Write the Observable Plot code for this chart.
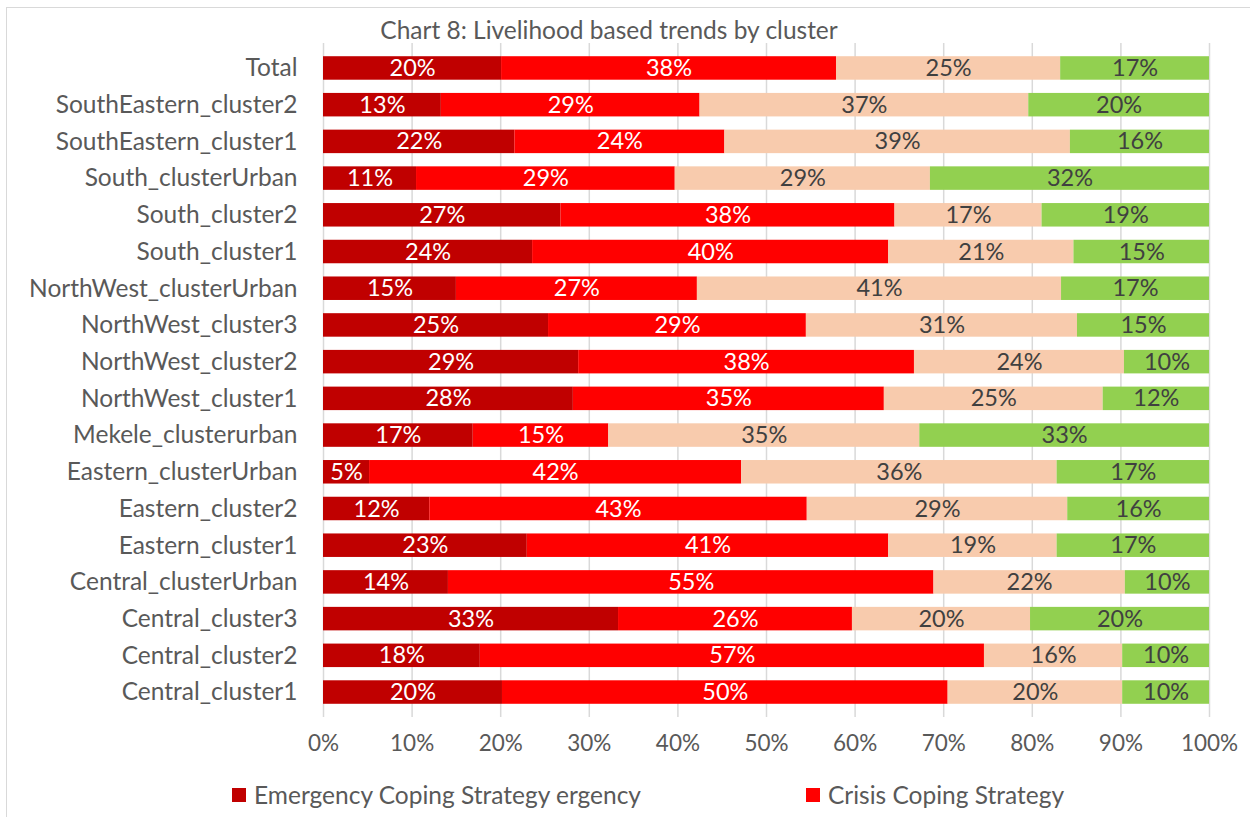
<!DOCTYPE html>
<html>
<head>
<meta charset="utf-8">
<script src="https://cdn.jsdelivr.net/npm/d3@7"></script>
<script src="https://cdn.jsdelivr.net/npm/@observablehq/plot@0.6"></script>
<style>
  html, body { margin: 0; padding: 0; background: #fff; }
  body { width: 1250px; height: 817px; position: relative; overflow: hidden; font-family: Lato, "Open Sans", sans-serif; }
  #frame { position: absolute; left: 6px; top: 7px; width: 1260px; height: 830px; border: 1.5px solid #d9d9d9; box-sizing: border-box; }
  #title { position: absolute; left: 0; width: 1218px; top: 15px; text-align: center; font-size: 24.5px; color: #595959; }
  #chart { position: absolute; left: 0; top: 40px; }
  .leg { position: absolute; top: 780px; font-size: 24.5px; color: #595959; display: flex; align-items: center; white-space: nowrap; }
  .sw { width: 14px; height: 14px; margin-right: 8px; }
</style>
</head>
<body>
<div id="frame"></div>
<div id="title">Chart 8: Livelihood based trends by cluster</div>
<div id="chart"></div>
<div class="leg" style="left:232px"><div class="sw" style="background:#C00000"></div>Emergency Coping Strategy ergency</div>
<div class="leg" style="left:806px"><div class="sw" style="background:#FF0000"></div>Crisis Coping Strategy</div>
<script>
const clusters = [
  "Total", "SouthEastern_cluster2", "SouthEastern_cluster1", "South_clusterUrban",
  "South_cluster2", "South_cluster1", "NorthWest_clusterUrban", "NorthWest_cluster3",
  "NorthWest_cluster2", "NorthWest_cluster1", "Mekele_clusterurban", "Eastern_clusterUrban",
  "Eastern_cluster2", "Eastern_cluster1", "Central_clusterUrban", "Central_cluster3",
  "Central_cluster2", "Central_cluster1"
];
const series = ["Emergency Coping Strategy", "Crisis Coping Strategy", "Stress Coping Strategy", "Neutral"];
const seriesColors = ["#C00000", "#FF0000", "#F8CBAD", "#92D050"];
const labelColors = ["#ffffff", "#ffffff", "#404040", "#404040"];

const emergency = [20.1, 13.3, 21.6, 10.5, 26.8, 23.6, 15.0, 25.4, 28.8, 28.2, 16.9, 5.2, 12.0, 23.0, 14.1, 33.3, 17.7, 20.2];
const crisis    = [37.8, 29.2, 23.7, 29.2, 37.7, 40.2, 27.2, 29.1, 37.9, 35.1, 15.3, 42.0, 42.6, 40.8, 54.8, 26.4, 56.9, 50.3];
const stress    = [25.3, 37.1, 39.0, 28.8, 16.6, 20.9, 41.1, 30.6, 23.7, 24.7, 35.1, 35.6, 29.4, 19.0, 21.6, 20.1, 15.6, 19.7];
const neutral   = [16.8, 20.4, 15.7, 31.5, 18.9, 15.3, 16.7, 14.9, 9.6, 12.0, 32.7, 17.2, 16.0, 17.2, 9.5, 20.2, 9.8, 9.8];
const xTicks = [0, 10, 20, 30, 40, 50, 60, 70, 80, 90, 100];

const valuesBySeries = [emergency, crisis, stress, neutral];
const data = [];
clusters.forEach((c, i) => {
  series.forEach((s, j) => {
    data.push({cluster: c, series: s, value: valuesBySeries[j][i], color: seriesColors[j], labelColor: labelColors[j]});
  });
});

const chart = Plot.plot({
  width: 1250,
  height: 730,
  marginLeft: 323,
  marginRight: 41,
  marginTop: 3,
  marginBottom: 53,
  style: {fontFamily: "Lato, 'Open Sans', sans-serif", fontSize: "23px", background: "transparent"},
  x: {domain: [0, 100], ticks: xTicks},
  y: {domain: clusters, paddingInner: 0.36, paddingOuter: 0.36, round: false},
  color: {type: "identity"},
  marks: [
    Plot.gridX(xTicks, {stroke: "#d9d9d9", strokeOpacity: 1, strokeWidth: 1.5}),
    Plot.barX(data, Plot.stackX({x: "value", y: "cluster", z: "series", fill: "color", inset: 0})),
    Plot.text(data, Plot.stackX({x: "value", y: "cluster", z: "series", fill: "labelColor",
      text: d => Math.round(d.value) + "%", fontSize: 23.5})),
    Plot.axisX({ticks: xTicks, tickFormat: d => d + "%", tickSize: 0, tickPadding: 18, fontSize: 22.5, color: "#595959", label: null}),
    Plot.axisY({tickSize: 0, tickPadding: 26, fontSize: 24.5, color: "#595959", label: null})
  ]
});
document.getElementById("chart").appendChild(chart);
</script>
</body>
</html>
